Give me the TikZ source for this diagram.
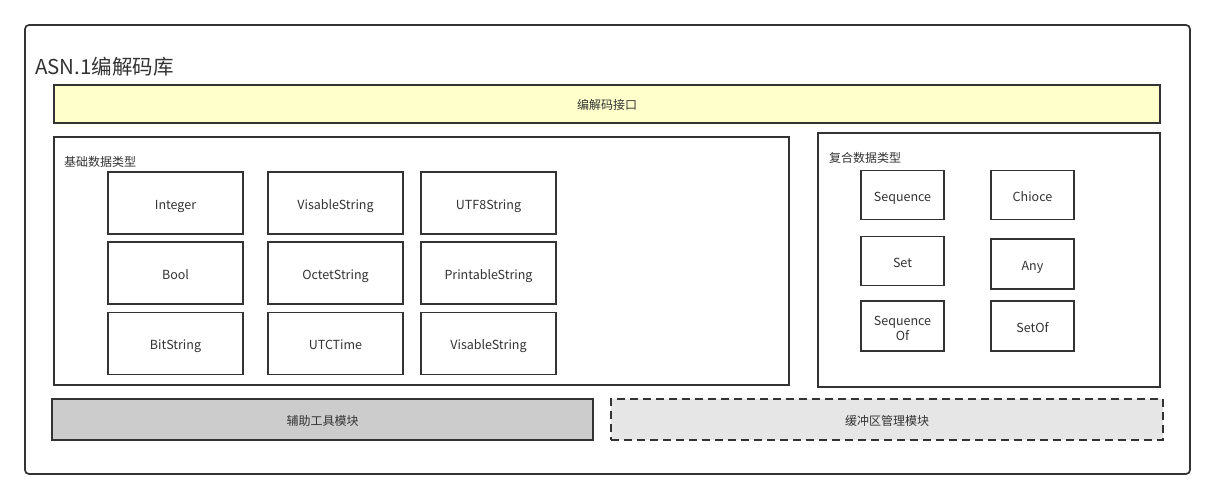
\documentclass[tikz,border=0pt]{standalone}
\usepackage{fontspec}
\setmainfont{Noto Sans CJK SC}
\definecolor{edge}{HTML}{333333}
\definecolor{txt}{HTML}{333333}
\definecolor{ifill}{HTML}{FFFFCC}
\definecolor{gfill}{HTML}{CCCCCC}
\definecolor{lfill}{HTML}{E6E6E6}
\tikzset{
  frame/.style={draw=edge, line width=1.7pt, rectangle},
  typebox/.style={frame, fill=white, font=\fontsize{12.5}{14}\selectfont, text=txt, align=center, inner sep=0pt, text height=12.5pt, text depth=0pt},
  wide/.style={frame, font=\fontsize{12}{14}\selectfont, text=txt, inner sep=0pt, text height=11.5pt, text depth=0pt},
  grouplabel/.style={anchor=west, font=\fontsize{12}{14}\selectfont, text=txt, inner sep=0pt},
}
\begin{document}
\begin{tikzpicture}[x=1pt,y=-1pt]
\useasboundingbox (0,0) rectangle (1215,500);
% outer
\draw[frame, rounded corners=4pt] (25,25) rectangle (1190,474);
\node[anchor=west, inner sep=0pt, font=\fontsize{20.5}{24}\selectfont, text=black!80] (title) at (35,67) {ASN.1编解码库};
% interface
\node[wide, fill=ifill, minimum width=1106pt, minimum height=38pt] (iface) at (607,104) {编解码接口};
% basic
\node[frame, minimum width=735pt, minimum height=248pt] (basic) at (421.5,261) {};
\node[grouplabel] (basiclbl) at (64,162) {基础数据类型};
\foreach \c/\x in {1/175.5,2/335.5,3/488.5}{
  \foreach \r/\y in {1/203,2/273,3/343.5}{
    \coordinate (b\c\r) at (\x,\y);
  }
}
\node[typebox, minimum width=135pt, minimum height=62pt] (int) at (b11) {Integer};
\node[typebox, minimum width=135pt, minimum height=62pt] (bool) at (b12) {Bool};
\node[typebox, minimum width=135pt, minimum height=62pt] (bit) at (b13) {BitString};
\node[typebox, minimum width=135pt, minimum height=62pt] (vis1) at (b21) {VisableString};
\node[typebox, minimum width=135pt, minimum height=62pt] (oct) at (b22) {OctetString};
\node[typebox, minimum width=135pt, minimum height=62pt] (utc) at (b23) {UTCTime};
\node[typebox, minimum width=135pt, minimum height=62pt] (utf) at (b31) {UTF8String};
\node[typebox, minimum width=135pt, minimum height=62pt] (prt) at (b32) {PrintableString};
\node[typebox, minimum width=135pt, minimum height=62pt] (vis2) at (b33) {VisableString};
% composite
\node[frame, minimum width=342pt, minimum height=254pt] (comp) at (989,260) {};
\node[grouplabel] (complbl) at (829,158) {复合数据类型};
\node[typebox, minimum width=83pt, minimum height=49pt] (seq) at (902.5,195) {Sequence};
\node[typebox, minimum width=83pt, minimum height=49pt] (set) at (902.5,261) {Set};
\node[frame, fill=white, minimum width=83pt, minimum height=50pt] (seqof) at (902.5,326) {};
\node[font=\fontsize{12.5}{15}\selectfont, text=txt, align=center, inner sep=0pt] (seqoft) at (902.5,328) {Sequence\\Of};
\node[typebox, minimum width=83pt, minimum height=49pt] (cho) at (1032.5,195) {Chioce};
\node[typebox, minimum width=83pt, minimum height=50pt] (any) at (1032.5,264) {Any};
\node[typebox, minimum width=83pt, minimum height=50pt] (setof) at (1032.5,326) {SetOf};
% bottom
\node[wide, fill=gfill, minimum width=541pt, minimum height=41pt] (util) at (322.5,419.5) {辅助工具模块};
\node[wide, dashed, dash pattern=on 8pt off 5pt, fill=lfill, minimum width=552pt, minimum height=41pt] (buf) at (887,419.5) {缓冲区管理模块};
\end{tikzpicture}
\end{document}
